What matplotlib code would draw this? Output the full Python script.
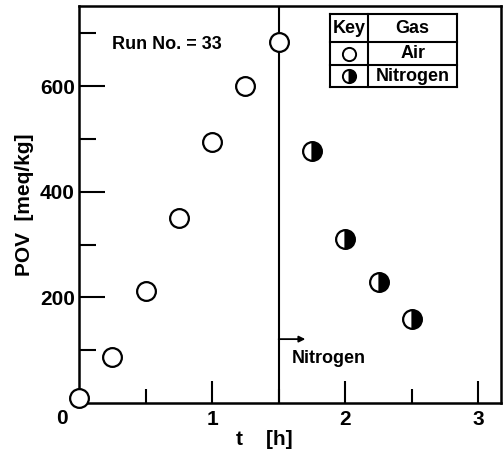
import numpy as np
import matplotlib
matplotlib.use('Agg')
from matplotlib import pyplot as plt

plt.rcParams['font.family'] = ['Liberation Sans', 'DejaVu Sans']
plt.rcParams['font.weight'] = 'bold'
plt.rcParams['axes.labelweight'] = 'bold'

# POV readings, run 33
t_air = [0.0, 0.25, 0.5, 0.75, 1.0, 1.25, 1.5]
pov_air = [10, 87, 213, 350, 495, 600, 683]
t_n2 = [1.75, 2.0, 2.25, 2.5]
pov_n2 = [478, 310, 230, 160]

t_switch = 1.5
key_labels = ['Air', 'Nitrogen']

fig = plt.figure(figsize=(5.04, 4.54), dpi=100)
ax = fig.add_axes([79/504, 51/454, 422/504, 397/454])

ax.axvline(t_switch, color='k', lw=1.5, zorder=1)

ax.plot(t_air, pov_air, 'o', ms=13.5, mfc='white', mec='k', mew=1.6,
        clip_on=False, zorder=3)
ax.plot(t_n2, pov_n2, 'o', ms=13.5, mfc='k', mfcalt='white', mec='k', mew=1.6,
        fillstyle='right', clip_on=False, zorder=3)

ax.set_xlim(0, 3.17)
ax.set_ylim(0, 752)

ax.set_xticks([1, 2, 3])
ax.set_xticks([0.5, 1.5, 2.5], minor=True)
ax.set_yticks([200, 400, 600])
ax.set_yticks([100, 300, 500, 700], minor=True)
ax.tick_params(which='both', direction='in', width=1.5, labelsize=15)
ax.tick_params(axis='x', which='major', length=16, pad=5)
ax.tick_params(axis='x', which='minor', length=10)
ax.tick_params(axis='y', which='major', length=19, pad=3)
ax.tick_params(axis='y', which='minor', length=12)
for s in ax.spines.values():
    s.set_linewidth(1.8)

ax.text(-0.04, -0.038, '0', transform=ax.transAxes, fontsize=15,
        ha='center', va='center')

ax.set_xlabel('t    [h]', fontsize=15)
ax.set_ylabel('POV  [meq/kg]', fontsize=15, labelpad=4)
ax.xaxis.set_label_coords(0.44, -0.092)
ax.xaxis.label.set_va('center')

ax.text(0.25, 680, 'Run No. = 33', fontsize=13, va='center')

# switch to nitrogen
ax.annotate('', xy=(1.7, 121), xytext=(t_switch, 121),
            arrowprops=dict(arrowstyle='-|>', color='k', lw=1.3,
                            mutation_scale=9, shrinkA=0, shrinkB=0))
ax.text(1.6, 84, 'Nitrogen', fontsize=13, va='center')

# key table
tr = ax.transAxes
x0, x1, x2 = 0.595, 0.685, 0.896
ys = [0.980, 0.909, 0.851, 0.796]
for y in ys:
    ax.plot([x0, x2], [y, y], color='k', lw=1.5, transform=tr)
for x in (x0, x1, x2):
    ax.plot([x, x], [ys[0], ys[-1]], color='k', lw=1.5, transform=tr)
yc = [(ys[i] + ys[i + 1]) / 2 for i in range(3)]
xc0 = (x0 + x1) / 2
xc1 = (x1 + x2) / 2
ax.text(xc0, yc[0], 'Key', transform=tr, fontsize=13, ha='center', va='center')
ax.text(xc1, yc[0], 'Gas', transform=tr, fontsize=13, ha='center', va='center')
for lab, y in zip(key_labels, yc[1:]):
    ax.text(xc1, y, lab, transform=tr, fontsize=13, ha='center', va='center')
ax.plot(xc0, yc[1], 'o', ms=9.5, mfc='white', mec='k', mew=1.4, transform=tr)
ax.plot(xc0, yc[2], 'o', ms=9.5, mfc='k', mfcalt='white', mec='k', mew=1.4,
        fillstyle='right', transform=tr)

fig.savefig('out.png', dpi=100)
